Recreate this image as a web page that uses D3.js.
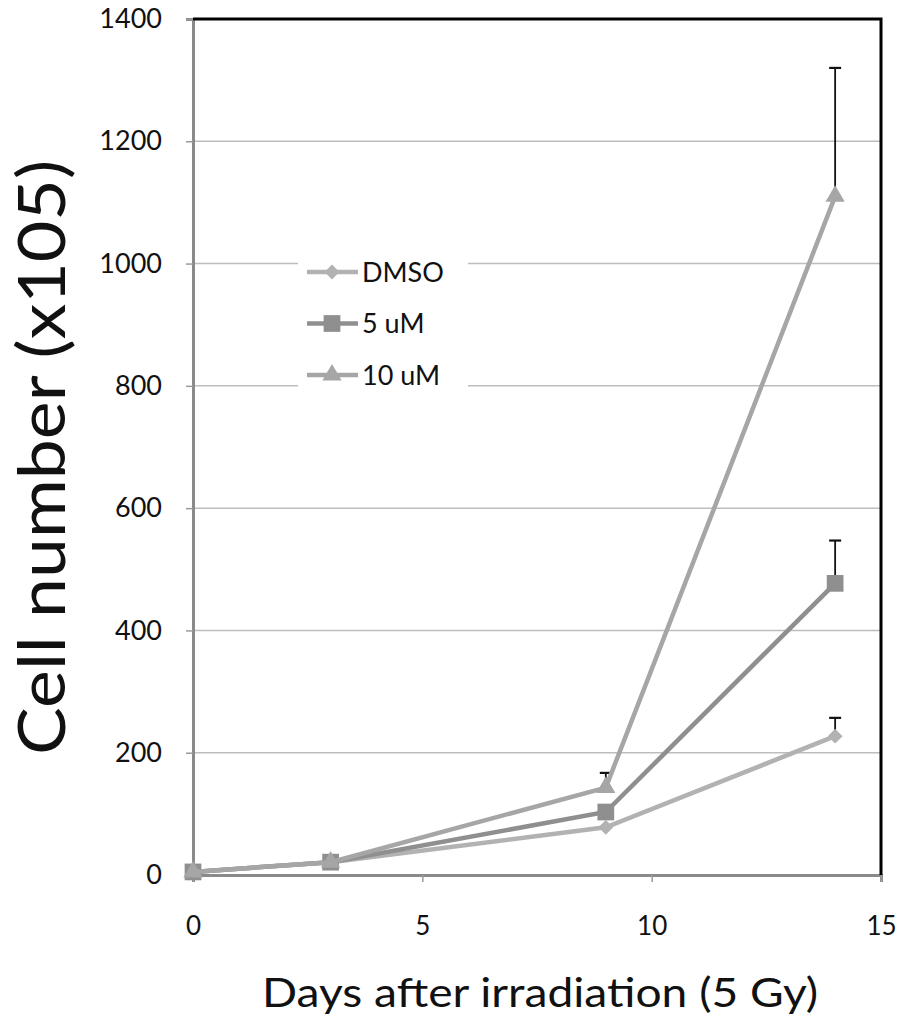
<!DOCTYPE html>
<html>
<head>
<meta charset="utf-8">
<script src="https://cdn.jsdelivr.net/npm/d3@7"></script>
<style>
  html, body { margin: 0; padding: 0; background: #fff; }
  svg text { font-family: Lato, "Open Sans", sans-serif; fill: #111; }
</style>
</head>
<body>
<svg id="chart" width="902" height="1021"></svg>
<script>
// Days after irradiation
const days = [0, 3, 9, 14];
// Cell number (x105) per treatment
const dmso  = [5, 21, 78, 227];
const uM5   = [5, 21, 103, 477];
const uM10  = [5, 21, 143, 1110];
// Upper error (SD) per point
const dmsoErr = [0, 0, 0, 30];
const uM5Err  = [0, 0, 0, 70];
const uM10Err = [0, 0, 24, 210];

const seriesNames = ["DMSO", "5 uM", "10 uM"];
const xTicks = [0, 5, 10, 15];
const yTicks = [0, 200, 400, 600, 800, 1000, 1200, 1400];

(function () {
  const series = [
    { name: seriesNames[0], values: dmso, err: dmsoErr, color: "#b2b2b2", shape: d3.symbolDiamond2, size: 140 },
    { name: seriesNames[1], values: uM5,  err: uM5Err,  color: "#8f8f8f", shape: d3.symbolSquare,   size: 280 },
    { name: seriesNames[2], values: uM10, err: uM10Err, color: "#a6a6a6", shape: d3.symbolTriangle, size: 160 }
  ];

  const svg = d3.select("#chart");
  const pLeft = 193, pRight = 881, pTop = 19, pBottom = 875;

  const x = d3.scaleLinear().domain([0, 15]).range([pLeft, pRight]);
  const y = d3.scaleLinear().domain([0, 1400]).range([pBottom, pTop]);

  // Horizontal gridlines
  svg.append("g")
    .selectAll("line")
    .data(yTicks.filter(t => t > 0 && t < 1400))
    .join("line")
    .attr("x1", pLeft).attr("x2", pRight)
    .attr("y1", d => y(d)).attr("y2", d => y(d))
    .attr("stroke", "#bdbdbd").attr("stroke-width", 1.5);

  // Y axis
  const yAxis = svg.append("g")
    .attr("transform", `translate(${pLeft},0)`)
    .call(d3.axisLeft(y).tickValues(yTicks).tickSize(7).tickPadding(24).tickFormat(d3.format("d")));
  yAxis.select(".domain").attr("stroke", "#8a8a8a").attr("stroke-width", 3);
  yAxis.selectAll(".tick line").attr("stroke", "#9a9a9a").attr("stroke-width", 1.5);
  yAxis.selectAll(".tick text").attr("font-size", 27).attr("fill", "#111");

  // X axis
  const xAxis = svg.append("g")
    .attr("transform", `translate(0,${pBottom})`)
    .call(d3.axisBottom(x).tickValues(xTicks).tickSize(7).tickPadding(35).tickFormat(d3.format("d")));
  xAxis.select(".domain").attr("stroke", "#8a8a8a").attr("stroke-width", 3);
  xAxis.selectAll(".tick line").attr("stroke", "#9a9a9a").attr("stroke-width", 1.5);
  xAxis.selectAll(".tick text").attr("font-size", 26).attr("fill", "#111");

  // Top and right frame
  svg.append("path")
    .attr("d", `M${pLeft},${pTop} H${pRight} V${pBottom}`)
    .attr("fill", "none").attr("stroke", "#000").attr("stroke-width", 3);

  // Error bars (upper only)
  const errG = svg.append("g");
  series.forEach(s => {
    days.forEach((d, i) => {
      if (s.err[i] <= 0) return;
      const cx = x(d), y0 = y(s.values[i]), y1 = y(s.values[i] + s.err[i]);
      errG.append("line").attr("x1", cx).attr("x2", cx).attr("y1", y0).attr("y2", y1)
        .attr("stroke", "#111").attr("stroke-width", 1.8);
      errG.append("line").attr("x1", cx - 6).attr("x2", cx + 6).attr("y1", y1).attr("y2", y1)
        .attr("stroke", "#111").attr("stroke-width", 2.2);
    });
  });

  // Lines and markers
  const line = d3.line().x((d, i) => x(days[i])).y(d => y(d));
  series.forEach(s => {
    const g = svg.append("g");
    g.append("path").datum(s.values)
      .attr("d", line).attr("fill", "none")
      .attr("stroke", s.color).attr("stroke-width", 4.5);
    g.selectAll("path.m").data(s.values).join("path")
      .attr("class", "m")
      .attr("transform", (d, i) => `translate(${x(days[i])},${y(d)})`)
      .attr("d", d3.symbol().type(s.shape).size(s.size))
      .attr("fill", s.color);
  });

  // Legend
  const legend = svg.append("g");
  legend.append("rect")
    .attr("x", 298).attr("y", 248).attr("width", 170).attr("height", 150)
    .attr("fill", "#fff");
  series.forEach((s, i) => {
    const ly = 272 + i * 51.5;
    legend.append("line").attr("x1", 307).attr("x2", 358).attr("y1", ly).attr("y2", ly)
      .attr("stroke", s.color).attr("stroke-width", 4.5);
    legend.append("path")
      .attr("transform", `translate(332,${ly})`)
      .attr("d", d3.symbol().type(s.shape).size(s.size))
      .attr("fill", s.color);
    legend.append("text").attr("x", 362).attr("y", ly).attr("dy", "0.36em")
      .attr("font-size", 27).text(s.name);
  });

  // Axis titles
  svg.append("text")
    .attr("x", 262).attr("y", 1007)
    .attr("font-size", 41)
    .attr("textLength", 556).attr("lengthAdjust", "spacingAndGlyphs")
    .text("Days after irradiation (5 Gy)");
  svg.append("text")
    .attr("transform", "translate(65,755) rotate(-90)")
    .attr("font-size", 66)
    .attr("textLength", 595).attr("lengthAdjust", "spacingAndGlyphs")
    .text("Cell number (x105)");
})();
</script>
</body>
</html>
